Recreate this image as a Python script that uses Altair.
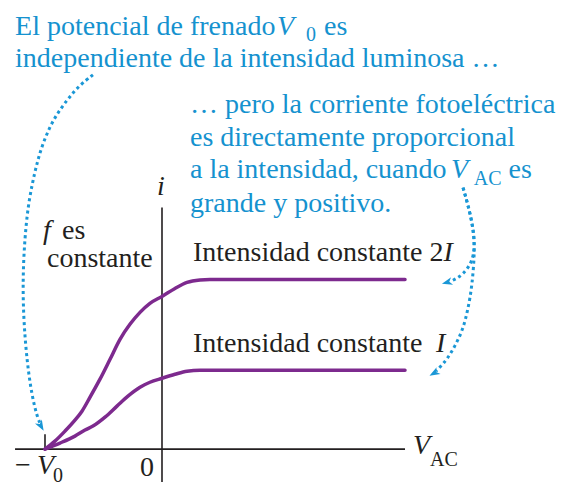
import altair as alt
import pandas as pd

# ---- curves: V_AC in units of V0, i in units of I (saturation of 2I curve = 2) ----
v_2i = [-1.0, -0.915, -0.829, -0.744, -0.684, -0.615, -0.530, -0.444, -0.359, -0.274,
        -0.188, -0.103, 0.0, 0.111, 0.214, 0.325, 0.410, 2.077]
i_2i = [0.0, 0.094, 0.212, 0.341, 0.447, 0.612, 0.824, 1.059, 1.294, 1.471,
        1.612, 1.718, 1.8, 1.894, 1.965, 1.994, 2.0, 2.0]
v_1i = [-1.0, -0.872, -0.744, -0.658, -0.590, -0.487, -0.385, -0.291, -0.188, -0.103,
        0.0, 0.111, 0.214, 0.325, 2.077]
i_1i = [0.0, 0.071, 0.153, 0.224, 0.271, 0.376, 0.506, 0.624, 0.729, 0.788,
        0.835, 0.882, 0.918, 0.929, 0.929]

# ---- axes lines ----
ax_x = [-1.256, 0.0, -1.0]
ax_x2 = [2.077, 0.0, -1.0]
ax_y = [0.0, -0.388, 0.0]
ax_y2 = [0.0, 2.847, 0.176]

# ---- dotted annotation arrows ----
arr1_x = [-0.590, -0.701, -0.812, -0.932, -1.017, -1.068, -1.111, -1.154, -1.188, -1.188,
          -1.154, -1.111, -1.068, -1.043]
arr1_y = [4.412, 4.294, 4.118, 3.882, 3.612, 3.376, 3.118, 2.788, 2.2, 1.612,
          1.024, 0.624, 0.388, 0.306]
arr2_x = [2.573, 2.615, 2.658, 2.675, 2.650, 2.573, 2.504, 2.462]
arr2_y = [3.082, 2.882, 2.624, 2.388, 2.2, 2.059, 2.0, 1.976]
arr3_x = [2.573, 2.615, 2.658, 2.675, 2.650, 2.615, 2.573, 2.504, 2.436, 2.376, 2.342]
arr3_y = [3.082, 2.882, 2.624, 2.353, 1.918, 1.647, 1.412, 1.212, 1.059, 0.965, 0.918]
head_x = [-1.034, 2.436, 2.325]
head_y = [0.271, 1.965, 0.894]
head_angle = [150, 255, 240]

# ---- texts ----
BLUE = "#1592cf"
BLACK = "#231f20"
PURPLE = "#7d2a8e"
txt_text = ["El potencial de frenado", "V", "0", "es",
            "independiente de la intensidad luminosa …",
            "… pero la corriente fotoeléctrica",
            "es directamente proporcional",
            "a la intensidad, cuando", "V", "AC", "es",
            "grande y positivo.",
            "i", "f", "es", "constante",
            "Intensidad constante 2", "I",
            "Intensidad constante", "I",
            "V", "AC",
            "−", "V", "0",
            "0"]
txt_x = [-1.256, 0.982, 1.231, 1.385,
         -1.256,
         0.239,
         0.239,
         0.239, 2.470, 2.665, 2.962,
         0.239,
         -0.043, -1.017, -0.855, -0.983,
         0.265, 2.405,
         0.265, 2.342,
         2.145, 2.291,
         -1.256, -1.068, -0.932,
         -0.188]
txt_y = [4.882, 4.882, 4.812, 4.882,
         4.506,
         3.965,
         3.576,
         3.2, 3.2, 3.118, 3.2,
         2.8,
         3.0, 2.471, 2.471, 2.141,
         2.212, 2.212,
         1.141, 1.141,
         -0.059, -0.2,
         -0.294, -0.294, -0.388,
         -0.318]
txt_color = [BLUE] * 12 + [BLACK] * 14
txt_kind = ["n", "i", "s", "n", "n", "n", "n", "n", "i", "s", "n", "n",
            "i", "i", "n", "n", "n", "i", "n", "i", "i", "s", "n", "i", "s", "n"]

SERIF = "Liberation Serif"

xs = alt.Scale(domain=[-1.3162, 3.4017], nice=False, zero=False)
ys = alt.Scale(domain=[-0.4235, 5.2], nice=False, zero=False)

curves = pd.DataFrame(
    {"v": v_2i + v_1i, "i": i_2i + i_1i,
     "curve": ["2I"] * len(v_2i) + ["I"] * len(v_1i)})
curve_layer = alt.Chart(curves).mark_line(
    color=PURPLE, strokeWidth=3.5, interpolate="monotone", strokeCap="round"
).encode(
    x=alt.X("v:Q", scale=xs, axis=None),
    y=alt.Y("i:Q", scale=ys, axis=None),
    detail="curve:N",
)

axes = pd.DataFrame({"x": ax_x, "x2": ax_x2, "y": ax_y, "y2": ax_y2})
axes_layer = alt.Chart(axes).mark_rule(color=BLACK, strokeWidth=1.6).encode(
    x=alt.X("x:Q", scale=xs, axis=None), x2="x2:Q",
    y=alt.Y("y:Q", scale=ys, axis=None), y2="y2:Q",
)

arrows = pd.DataFrame({
    "x": arr1_x + arr2_x + arr3_x,
    "y": arr1_y + arr2_y + arr3_y,
    "arrow": ["a1"] * len(arr1_x) + ["a2"] * len(arr2_x) + ["a3"] * len(arr3_x),
    "order": list(range(len(arr1_x))) + list(range(len(arr2_x))) + list(range(len(arr3_x))),
})
arrow_layer = alt.Chart(arrows).mark_line(
    color="#1a97d6", strokeWidth=3, strokeDash=[3, 3.2], interpolate="basis", strokeCap="butt"
).encode(
    x=alt.X("x:Q", scale=xs, axis=None),
    y=alt.Y("y:Q", scale=ys, axis=None),
    detail="arrow:N",
    order="order:Q",
)

heads = pd.DataFrame({"x": head_x, "y": head_y, "a": head_angle})
head_layer = alt.Chart(heads).mark_point(
    shape="M0,-1L0.75,1L0,0.45L-0.75,1Z", filled=True, color="#1a97d6", opacity=1, size=110
).encode(
    x=alt.X("x:Q", scale=xs, axis=None),
    y=alt.Y("y:Q", scale=ys, axis=None),
    angle=alt.Angle("a:Q", scale=None),
)

texts = pd.DataFrame({"x": txt_x, "y": txt_y, "t": txt_text, "c": txt_color, "k": txt_kind})

text_layers = []
for color in (BLUE, BLACK):
    for kind in ("n", "i", "s"):
        sub = texts[(texts["k"] == kind) & (texts["c"] == color)]
        if len(sub) == 0:
            continue
        props = dict(font=SERIF, align="left", baseline="alphabetic", color=color,
                     fontSize=20 if kind == "s" else 28)
        if kind == "i":
            props["fontStyle"] = "italic"
        text_layers.append(
            alt.Chart(sub).mark_text(**props).encode(
                x=alt.X("x:Q", scale=xs, axis=None),
                y=alt.Y("y:Q", scale=ys, axis=None),
                text="t:N",
            )
        )

chart = alt.layer(
    axes_layer, curve_layer, arrow_layer, head_layer, *text_layers
).properties(
    width=552, height=478, padding=0,
    autosize=alt.AutoSizeParams(type="fit", contains="padding"),
).configure_view(stroke=None)

chart.save("out.html", embed_options={"renderer": "svg", "actions": False})
